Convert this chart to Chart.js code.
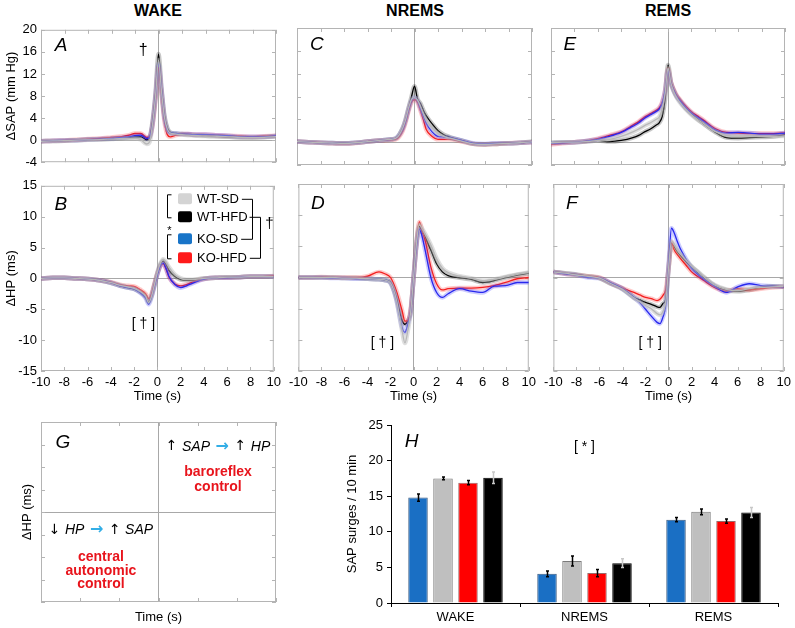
<!DOCTYPE html>
<html>
<head>
<meta charset="utf-8">
<script src="https://cdn.jsdelivr.net/npm/chart.js@4.4.1/dist/chart.umd.min.js"></script>
<style>
body { margin: 0; background: #fff; width: 795px; height: 628px; position: relative; overflow: hidden; font-family: "Liberation Sans", Arial, sans-serif; }
.box { position: absolute; }
.hd { position: absolute; top: 3px; font-weight: bold; font-size: 16px; line-height: 16px; transform: translateX(-50%); }
</style>
</head>
<body>
<div class="hd" style="left:158px">WAKE</div>
<div class="hd" style="left:415px">NREMS</div>
<div class="hd" style="left:668px">REMS</div>

<div class="box" style="left:0;top:18px;width:285px;height:156px"><canvas id="cA"></canvas></div>
<div class="box" style="left:285px;top:18px;width:255px;height:156px"><canvas id="cC"></canvas></div>
<div class="box" style="left:540px;top:18px;width:255px;height:156px"><canvas id="cE"></canvas></div>
<div class="box" style="left:0;top:174px;width:285px;height:234px"><canvas id="cB"></canvas></div>
<div class="box" style="left:285px;top:174px;width:255px;height:234px"><canvas id="cD"></canvas></div>
<div class="box" style="left:540px;top:174px;width:255px;height:234px"><canvas id="cF"></canvas></div>
<div class="box" style="left:0;top:412px;width:290px;height:216px"><canvas id="cG"></canvas></div>
<div class="box" style="left:335px;top:405px;width:460px;height:223px"><canvas id="cH"></canvas></div>

<script>
// time axis (s) shared by all traces
const timeSec = [-10,-9,-8,-7,-6,-5,-4,-3,-2.5,-2,-1.5,-1,-0.75,-0.5,-0.25,0,0.25,0.5,0.75,1,1.5,2,2.5,3,4,5,6,7,8,9,10];

// ΔSAP (mm Hg)
const sapWakeWtSd  = [-0.2,-0.15,-0.1,0,0.05,0.1,0.2,0.3,0.3,0.3,0.1,-0.7,-0.3,3,8,14.5,9,4.2,2.0,1.3,1.1,1.0,0.9,0.85,0.75,0.7,0.6,0.5,0.45,0.5,0.65];
const sapWakeWtHfd = [-0.2,-0.15,-0.1,0,0.1,0.15,0.25,0.4,0.5,0.6,0.6,0.1,0.5,3.5,8.5,15.6,9.5,4.5,2.2,1.4,1.2,1.1,1.0,0.95,0.8,0.7,0.6,0.5,0.5,0.55,0.7];
const sapWakeKoSd  = [-0.2,-0.1,-0.05,0,0.1,0.2,0.3,0.5,0.6,0.8,0.9,0.3,0.6,3,8,13.8,9.2,4.0,1.8,1.3,1.2,1.1,1.1,1.0,1.0,0.9,0.8,0.6,0.6,0.6,0.8];
const sapWakeKoHfd = [-0.2,-0.1,-0.05,0.05,0.2,0.3,0.5,0.7,0.9,1.2,1.2,0.5,0.6,2.8,7.5,13.2,8.5,3.5,1.0,0.6,0.9,1.1,1.1,1.0,1.0,0.9,0.8,0.7,0.6,0.7,0.8];

const sapNremWtSd  = [0.1,0,-0.1,-0.15,-0.2,-0.1,0.1,0.3,0.4,0.5,0.8,2.5,4,6,7.5,7.8,7.4,6.3,5.0,3.8,2.5,1.5,1.0,0.7,0.2,-0.3,-0.4,-0.3,-0.2,-0.1,0.05];
const sapNremWtHfd = [0.1,0,-0.1,-0.15,-0.2,-0.1,0.1,0.3,0.4,0.5,0.8,2.5,4,6,8,9.8,7.6,6.8,5.6,4.6,3.2,2.0,1.3,0.9,0.3,-0.3,-0.4,-0.3,-0.2,-0.1,0.1];
const sapNremKoSd  = [0.1,0,-0.1,-0.15,-0.2,-0.1,0.1,0.3,0.4,0.5,0.8,2.3,3.8,5.8,7.3,7.8,7.3,6.0,4.6,3.3,1.8,1.0,0.9,0.8,0.3,-0.2,-0.3,-0.2,-0.2,-0.1,0];
const sapNremKoHfd = [0.1,0,-0.1,-0.2,-0.25,-0.15,0.1,0.3,0.3,0.4,0.6,2.0,3.5,5.5,7.0,7.5,7.0,5.6,4.0,2.2,1.0,0.5,0.5,0.5,0.1,-0.3,-0.4,-0.3,-0.2,-0.1,0];

const sapRemWtSd   = [-0.1,0,0,0.1,0.3,0.5,1.0,1.8,2.3,2.9,3.4,4.0,4.4,5.8,8.5,13,10.3,8.8,7.8,7.0,5.8,4.8,4.0,3.3,1.9,1.2,1.1,1.1,1.0,1.0,1.1];
const sapRemWtHfd  = [-0.1,0,0,0.1,0.3,0.1,0.3,0.8,1.2,1.8,2.3,3.0,3.4,4.5,7.5,13.5,10.5,9.0,8.0,7.3,6.0,5.0,4.1,3.3,1.8,0.8,0.7,0.8,0.9,1.0,1.3];
const sapRemKoSd   = [-0.2,-0.1,0,0.2,0.5,1.0,1.7,2.8,3.4,4.2,4.8,5.4,5.8,6.8,9,12.6,10.3,9.0,8.0,7.3,6.1,5.1,4.4,3.7,2.2,1.6,1.7,1.6,1.4,1.4,1.6];
const sapRemKoHfd  = [-0.4,-0.2,0,0.2,0.6,1.2,1.8,3.0,3.6,4.4,5.0,5.6,6.0,7.0,9.0,12.8,10.5,9.2,8.2,7.5,6.3,5.3,4.6,3.9,2.4,1.7,1.6,1.5,1.5,1.5,1.6];

// ΔHP (ms)
const hpWakeWtSd   = [0,0.1,0.1,0,-0.1,-0.3,-0.7,-1.2,-1.4,-1.6,-2.1,-2.9,-3.9,-2.9,-1.0,1.0,2.4,3.1,2.6,1.8,0.6,0.0,-0.2,-0.2,0,0.1,0.2,0.2,0.3,0.3,0.3];
const hpWakeWtHfd  = [0,0.1,0.1,0,-0.1,-0.3,-0.7,-1.3,-1.5,-1.7,-2.2,-3.0,-3.8,-2.8,-1.0,0.8,2.2,2.8,2.2,1.3,0.3,-0.2,-0.3,-0.3,0,0.1,0.2,0.2,0.3,0.3,0.3];
const hpWakeKoSd   = [0,0.1,0.1,0,-0.1,-0.3,-0.7,-1.3,-1.5,-1.7,-2.3,-3.2,-4.2,-3.0,-1.2,0.6,2.0,2.5,1.6,0.3,-1.0,-1.5,-1.2,-0.8,-0.1,0.1,0.1,0.2,0.3,0.3,0.3];
const hpWakeKoHfd  = [0,0.1,0.1,0,-0.1,-0.3,-0.6,-1.1,-1.2,-1.3,-1.8,-2.5,-3.3,-2.5,-0.8,0.8,2.0,2.4,1.5,0.2,-0.9,-1.2,-1.0,-0.6,-0.1,0.1,0.1,0.2,0.3,0.3,0.4];

const hpNremWtSd   = [0,0,0,0,-0.1,-0.1,-0.2,-0.3,-0.4,-0.9,-3.5,-8.5,-10.5,-8.5,-5.5,0,5.5,8.5,7.8,7.0,5.2,3.0,1.5,0.8,0.2,-0.1,-0.5,-0.3,0.1,0.5,0.8];
const hpNremWtHfd  = [0,0,0,0,-0.1,-0.1,-0.2,-0.3,-0.4,-0.8,-3.2,-6.9,-7.5,-7.0,-5.5,0,5.5,8.2,7.3,6.5,4.4,2.2,0.9,0.3,-0.05,-0.3,-0.8,-0.5,0,0.4,0.7];
const hpNremKoSd   = [0,0,0,-0.1,-0.1,-0.2,-0.2,-0.3,-0.4,-0.9,-3.5,-8.0,-8.8,-7.5,-5.5,0,5.0,7.8,6.5,4.4,0,-2.4,-3.2,-2.6,-1.8,-2.2,-2.4,-1.4,-1.3,-0.8,-0.8];
const hpNremKoHfd  = [0,0,0.1,0,0,0,0.2,0.9,0.6,0,-2.1,-5.3,-7.0,-6.9,-5,0,5.5,8.9,7.5,6.0,1.7,-1.0,-2,-1.8,-1.7,-1.7,-1.6,-1.3,-0.8,-0.2,0];

const hpRemWtSd    = [0.9,0.7,0.4,0.2,-0.1,-1.0,-1.9,-3.3,-3.9,-4.5,-5.0,-5.8,-6.0,-5.5,-4.0,1.5,5.8,5.2,4.4,3.8,2.8,1.8,1.0,0.2,-1.2,-1.9,-2.1,-1.8,-1.6,-1.5,-1.4];
const hpRemWtHfd   = [0.9,0.7,0.5,0.2,-0.1,-1.0,-1.8,-3.2,-3.6,-4.0,-4.3,-4.7,-4.8,-4.2,-3.5,1.5,5.5,4.9,4.2,3.6,2.6,1.7,0.9,0.1,-1.3,-2.0,-2.2,-2.0,-1.6,-1.4,-1.5];
const hpRemKoSd    = [0.9,0.6,0.4,0.0,-0.1,-0.9,-1.8,-3.2,-4.0,-5.1,-6.2,-7.2,-7.4,-6.4,-4.5,2.0,7.9,7.1,5.8,4.7,3.0,1.5,0.6,-0.2,-1.4,-2.4,-1.5,-1.0,-1.3,-1.4,-1.5];
const hpRemKoHfd   = [0.9,0.6,0.4,0.2,0.0,-0.9,-1.7,-2.4,-2.8,-3.2,-3.4,-3.7,-3.5,-2.9,-2.0,1.5,5.7,4.4,3.7,3.1,2.0,0.9,0.2,-0.4,-1.6,-2.2,-1.8,-2.0,-1.8,-1.6,-1.5];

// panel H: SAP surges / 10 min
const sleepStates = ['WAKE', 'NREMS', 'REMS'];
const surgesKoSd  = [14.8, 4.1, 11.7];
const surgesWtSd  = [17.5, 5.9, 12.8];
const surgesKoHfd = [16.9, 4.2, 11.5];
const surgesWtHfd = [17.6, 5.6, 12.7];
const semKoSd  = [0.5, 0.4, 0.3];
const semWtSd  = [0.2, 0.7, 0.4];
const semKoHfd = [0.3, 0.5, 0.3];
const semWtHfd = [0.8, 0.6, 0.7];

const groupNames = ['WT-SD', 'WT-HFD', 'KO-SD', 'KO-HFD'];

const FONT = '"Liberation Sans", Arial, sans-serif';
const SYM = '"DejaVu Sans", sans-serif';
Chart.defaults.font.family = FONT;
Chart.defaults.font.size = 13;
Chart.defaults.color = '#000';
Chart.defaults.animation = false;

const FRAME = '#b4b4b4';
const ZERO = '#a8a8a8';
const lineColors = { wtSd: '#b9b9b9', wtHfd: '#000000', koSd: '#2424e8', koHfd: '#f01c1c' };
const bandColors = { wtSd: 'rgba(185,185,185,0.45)', wtHfd: 'rgba(0,0,0,0.22)', koSd: 'rgba(50,50,255,0.25)', koHfd: 'rgba(255,40,40,0.25)' };

function drawRich(ctx, parts, cx, cy) {
    let w = 0;
    parts.forEach(p => { ctx.font = p.font; w += ctx.measureText(p.t).width; });
    let x = cx - w / 2;
    ctx.textBaseline = 'middle';
    ctx.textAlign = 'left';
    parts.forEach(p => {
        ctx.font = p.font;
        ctx.fillStyle = p.color || '#000';
        ctx.fillText(p.t, x, cy);
        x += ctx.measureText(p.t).width;
    });
}

// frame + inward ticks, MATLAB style
const framePlugin = {
    id: 'frame',
    beforeDatasetsDraw(chart, args, opts) {
        if (!opts.on) return;
        const { ctx, chartArea: a, scales } = chart;
        ctx.save();
        ctx.strokeStyle = FRAME;
        ctx.lineWidth = 1;
        ctx.strokeRect(a.left + 0.5, a.top + 0.5, a.right - a.left - 1, a.bottom - a.top - 1);
        ctx.beginPath();
        scales.x.ticks.forEach(t => {
            const p = Math.round(scales.x.getPixelForValue(t.value)) + 0.5;
            ctx.moveTo(p, a.bottom); ctx.lineTo(p, a.bottom - 4);
            ctx.moveTo(p, a.top); ctx.lineTo(p, a.top + 4);
        });
        scales.y.ticks.forEach(t => {
            const p = Math.round(scales.y.getPixelForValue(t.value)) + 0.5;
            ctx.moveTo(a.left, p); ctx.lineTo(a.left + 4, p);
            ctx.moveTo(a.right, p); ctx.lineTo(a.right - 4, p);
        });
        ctx.stroke();
        ctx.restore();
    }
};

// free text placed in data coordinates
const notesPlugin = {
    id: 'notes',
    afterDraw(chart, args, opts) {
        const ctx = chart.ctx;
        ctx.save();
        (opts.items || []).forEach(n => {
            const px = chart.scales.x.getPixelForValue(n.x);
            const py = chart.scales.y.getPixelForValue(n.y);
            drawRich(ctx, n.parts, px, py);
        });
        ctx.restore();
    }
};

// legend with significance brackets (panel B)
const groupLegendPlugin = {
    id: 'groupLegend',
    afterDraw(chart, args, opts) {
        if (!opts.on) return;
        const ctx = chart.ctx;
        const a = chart.chartArea;
        const x0 = a.left + 137, rows = [13, 31, 53, 72].map(v => a.top + v);
        const sw = ['#d4d4d4', '#000000', '#1874c8', '#ff1a1a'];
        ctx.save();
        ctx.font = '13px ' + FONT;
        ctx.textBaseline = 'middle';
        const ends = [];
        groupNames.forEach((g, i) => {
            ctx.fillStyle = sw[i];
            ctx.beginPath();
            ctx.roundRect(x0, rows[i] - 5.5, 14, 11, 2);
            ctx.fill();
            ctx.fillStyle = '#000';
            ctx.fillText(g, x0 + 19, rows[i] + 0.5);
            ends.push(x0 + 19 + ctx.measureText(g).width);
        });
        ctx.strokeStyle = '#000';
        ctx.lineWidth = 1;
        ctx.beginPath();
        // left brackets
        const lx = x0 - 10.5;
        [[0, 1], [2, 3]].forEach(([p, q]) => {
            ctx.moveTo(lx + 4, rows[p] - 4); ctx.lineTo(lx, rows[p] - 4);
            ctx.lineTo(lx, rows[q] + 1); ctx.lineTo(lx + 4, rows[q] + 1);
        });
        // right brackets
        const r1 = x0 + 74.5, r2 = x0 + 82.5;
        ctx.moveTo(ends[0] + 3, rows[0] + 0.5); ctx.lineTo(r1, rows[0] + 0.5);
        ctx.lineTo(r1, rows[2] + 0.5); ctx.lineTo(ends[2] + 3, rows[2] + 0.5);
        ctx.moveTo(ends[1] + 2, rows[1] + 0.5); ctx.lineTo(r2, rows[1] + 0.5);
        ctx.lineTo(r2, rows[3] + 0.5); ctx.lineTo(ends[3] + 3, rows[3] + 0.5);
        ctx.stroke();
        ctx.textAlign = 'center';
        ctx.font = '11px ' + FONT;
        ctx.fillText('*', lx + 2, (rows[1] + rows[2]) / 2 + 3);
        ctx.font = '15px ' + FONT;
        ctx.fillText('†', r2 + 9, (rows[1] + rows[2]) / 2 - 4);
        ctx.restore();
    }
};

const LETTER = 'italic 19px ' + FONT;
function txt(t, font, color) { return [{ t: t, font: font, color: color }]; }

function tracePanel(id, series, yMin, yMax, yStep, o) {
    const keys = ['wtSd', 'koSd', 'koHfd', 'wtHfd'];
    const datasets = [];
    keys.forEach(k => {
        const pts = timeSec.map((t, i) => ({ x: t, y: series[k][i] }));
        datasets.push({ data: pts, borderColor: bandColors[k], borderWidth: 4.5, pointRadius: 0, cubicInterpolationMode: 'monotone' });
        datasets.push({ data: pts, borderColor: lineColors[k], borderWidth: 1.3, pointRadius: 0, cubicInterpolationMode: 'monotone' });
    });
    const gridColor = c => (c.tick && c.tick.value === 0) ? ZERO : 'rgba(0,0,0,0)';
    return new Chart(document.getElementById(id), {
        type: 'line',
        data: { datasets: datasets },
        plugins: [framePlugin, notesPlugin, groupLegendPlugin],
        options: {
            responsive: true,
            maintainAspectRatio: false,
            layout: { padding: { top: 10, right: o.right, left: 0, bottom: 0 } },
            plugins: {
                legend: { display: false },
                tooltip: { enabled: false },
                frame: { on: true },
                notes: { items: o.notes },
                groupLegend: { on: !!o.legend }
            },
            scales: {
                x: {
                    type: 'linear', min: -10, max: 10,
                    ticks: { stepSize: 2, display: !!o.xLabels, autoSkip: false, maxRotation: 0, padding: 4 },
                    grid: { drawTicks: false, color: gridColor },
                    border: { display: false },
                    title: { display: !!o.xLabels, text: 'Time (s)', padding: { top: 0, bottom: 4 } },
                    afterFit: s => { s.height = o.xh; }
                },
                y: {
                    min: yMin, max: yMax,
                    ticks: { stepSize: yStep, display: !!o.yTitle, padding: 4 },
                    grid: { drawTicks: false, color: gridColor },
                    border: { display: false },
                    title: { display: !!o.yTitle, text: o.yTitle || '', padding: { top: 4, bottom: 0 } },
                    afterFit: s => { s.width = o.yw; }
                }
            }
        }
    });
}

tracePanel('cA', { wtSd: sapWakeWtSd, wtHfd: sapWakeWtHfd, koSd: sapWakeKoSd, koHfd: sapWakeKoHfd }, -4, 20, 4,
    { right: 9, yw: 41, xh: 9, yTitle: 'ΔSAP (mm Hg)',
      notes: [{ x: -8.3, y: 17.1, parts: txt('A', LETTER) }, { x: -1.3, y: 16.3, parts: txt('†', '16px ' + FONT) }] });
tracePanel('cC', { wtSd: sapNremWtSd, wtHfd: sapNremWtHfd, koSd: sapNremKoSd, koHfd: sapNremKoHfd }, -4, 20, 4,
    { right: 8, yw: 12, xh: 9, notes: [{ x: -8.3, y: 17.1, parts: txt('C', LETTER) }] });
tracePanel('cE', { wtSd: sapRemWtSd, wtHfd: sapRemWtHfd, koSd: sapRemKoSd, koHfd: sapRemKoHfd }, -4, 20, 4,
    { right: 10, yw: 11, xh: 9, notes: [{ x: -8.4, y: 17.1, parts: txt('E', LETTER) }] });

const dag = '14px ' + FONT;
tracePanel('cB', { wtSd: hpWakeWtSd, wtHfd: hpWakeWtHfd, koSd: hpWakeKoSd, koHfd: hpWakeKoHfd }, -15, 15, 5,
    { right: 9, yw: 41, xh: 37, xLabels: true, yTitle: 'ΔHP (ms)', legend: true,
      notes: [{ x: -8.3, y: 11.9, parts: txt('B', LETTER) }, { x: -1.2, y: -7.4, parts: txt('[ † ]', dag) }] });
tracePanel('cD', { wtSd: hpNremWtSd, wtHfd: hpNremWtHfd, koSd: hpNremKoSd, koHfd: hpNremKoHfd }, -15, 15, 5,
    { right: 8, yw: 12, xh: 37, xLabels: true,
      notes: [{ x: -8.3, y: 11.9, parts: txt('D', LETTER) }, { x: -2.7, y: -10.6, parts: txt('[ † ]', dag) }] });
tracePanel('cF', { wtSd: hpRemWtSd, wtHfd: hpRemWtHfd, koSd: hpRemKoSd, koHfd: hpRemKoHfd }, -15, 15, 5,
    { right: 10, yw: 11, xh: 37, xLabels: true,
      notes: [{ x: -8.4, y: 11.9, parts: txt('F', LETTER) }, { x: -1.6, y: -10.6, parts: txt('[ † ]', dag) }] });

// panel G: schematic axes
const it = 'italic 14px ' + FONT, up = '14px ' + SYM, arr = 'bold 16px ' + SYM, red = 'bold 14px ' + FONT;
const CYAN = '#33aee6', RED = '#e8141c';
new Chart(document.getElementById('cG'), {
    type: 'scatter',
    data: { datasets: [] },
    plugins: [framePlugin, notesPlugin],
    options: {
        responsive: true,
        maintainAspectRatio: false,
        layout: { padding: { top: 10, right: 14, left: 0, bottom: 0 } },
        plugins: {
            legend: { display: false },
            tooltip: { enabled: false },
            frame: { on: true },
            notes: { items: [
                { x: -2.44, y: 3.1, parts: txt('G', LETTER) },
                { x: 1.52, y: 2.9, parts: [{ t: '↑ ', font: up }, { t: 'SAP', font: it }, { t: ' → ', font: arr, color: CYAN }, { t: '↑ ', font: up }, { t: 'HP', font: it }] },
                { x: 1.52, y: 1.75, parts: txt('baroreflex', red, RED) },
                { x: 1.52, y: 1.12, parts: txt('control', red, RED) },
                { x: -1.47, y: -0.8, parts: [{ t: '↓ ', font: up }, { t: 'HP', font: it }, { t: ' → ', font: arr, color: CYAN }, { t: '↑ ', font: up }, { t: 'SAP', font: it }] },
                { x: -1.47, y: -2.0, parts: txt('central', red, RED) },
                { x: -1.47, y: -2.62, parts: txt('autonomic', red, RED) },
                { x: -1.47, y: -3.22, parts: txt('control', red, RED) }
            ] }
        },
        scales: {
            x: {
                type: 'linear', min: -3, max: 3,
                ticks: { stepSize: 1, display: false },
                grid: { drawTicks: false, color: c => c.tick.value === 0 ? ZERO : 'rgba(0,0,0,0)' },
                border: { display: false },
                title: { display: true, text: 'Time (s)', padding: { top: 0, bottom: 3 } },
                afterFit: s => { s.height = 26; }
            },
            y: {
                min: -4, max: 4,
                ticks: { stepSize: 1, display: false },
                grid: { drawTicks: false, color: c => c.tick.value === 0 ? ZERO : 'rgba(0,0,0,0)' },
                border: { display: false },
                title: { display: true, text: 'ΔHP (ms)', padding: { top: 20, bottom: 0 } },
                afterFit: s => { s.width = 41; }
            }
        }
    }
});

// panel H: bar chart with SEM bars
const errPlugin = {
    id: 'errBars',
    afterDatasetsDraw(chart) {
        const ctx = chart.ctx, ys = chart.scales.y;
        ctx.save();
        chart.data.datasets.forEach((ds, di) => {
            const meta = chart.getDatasetMeta(di);
            ctx.strokeStyle = ds.errColor;
            ctx.lineWidth = 1.5;
            meta.data.forEach((el, i) => {
                const v = ds.data[i], e = ds.sem[i];
                const t = ys.getPixelForValue(v + e), b = ys.getPixelForValue(v - e);
                const x = Math.round(el.x) + 0.5;
                ctx.beginPath();
                ctx.moveTo(x, t); ctx.lineTo(x, b);
                ctx.moveTo(x - 1.5, t); ctx.lineTo(x + 1.5, t);
                ctx.moveTo(x - 1.5, b); ctx.lineTo(x + 1.5, b);
                ctx.stroke();
            });
        });
        ctx.restore();
    }
};

const barCommon = { borderWidth: 1, categoryPercentage: 0.775, barPercentage: 0.78 };
new Chart(document.getElementById('cH'), {
    type: 'bar',
    data: {
        labels: sleepStates,
        datasets: [
            Object.assign({ label: 'KO-SD', data: surgesKoSd, sem: semKoSd, backgroundColor: '#1a6fc4', borderColor: '#3a5a80', errColor: '#000' }, barCommon),
            Object.assign({ label: 'WT-SD', data: surgesWtSd, sem: semWtSd, backgroundColor: '#bfbfbf', borderColor: '#7a7a7a', errColor: '#000' }, barCommon),
            Object.assign({ label: 'KO-HFD', data: surgesKoHfd, sem: semKoHfd, backgroundColor: '#ff0000', borderColor: '#9a6a6a', errColor: '#000' }, barCommon),
            Object.assign({ label: 'WT-HFD', data: surgesWtHfd, sem: semWtHfd, backgroundColor: '#000000', borderColor: '#000000', errColor: '#c8c8c8' }, barCommon)
        ]
    },
    plugins: [errPlugin, notesPlugin],
    options: {
        responsive: true,
        maintainAspectRatio: false,
        layout: { padding: { top: 20, right: 17, left: 0, bottom: 0 } },
        plugins: {
            legend: { display: false },
            tooltip: { enabled: false },
            notes: { items: [
                { x: -0.34, y: 22.6, parts: txt('H', LETTER) },
                { x: 1, y: 21.9, parts: txt('[ * ]', dag) }
            ] }
        },
        scales: {
            x: {
                grid: { offset: true, drawOnChartArea: false, tickLength: 4, color: '#000' },
                border: { color: '#000' },
                ticks: { padding: 3 },
                afterFit: s => { s.height = 25; }
            },
            y: {
                min: 0, max: 25,
                ticks: { stepSize: 5, padding: 4 },
                grid: { drawOnChartArea: false, tickLength: 4, color: '#000' },
                border: { color: '#000' },
                title: { display: true, text: 'SAP surges / 10 min', padding: { top: 10, bottom: 0 } },
                afterFit: s => { s.width = 56; }
            }
        }
    }
});
</script>
</body>
</html>
